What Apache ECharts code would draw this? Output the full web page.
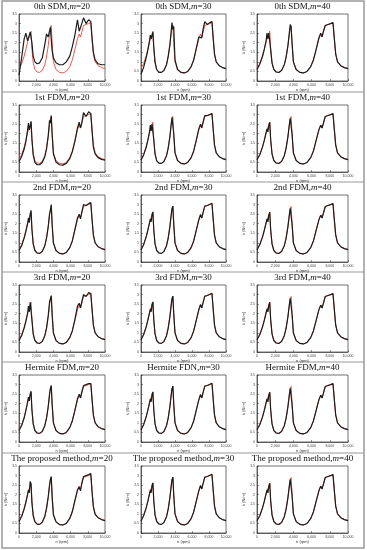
<!DOCTYPE html>
<html><head><meta charset="utf-8">
<script src="https://cdn.jsdelivr.net/npm/echarts/dist/echarts.min.js"></script>
<style>html,body{margin:0;padding:0;background:#fff}#c{width:367px;height:550px}</style>
</head><body><div id="c"></div>
<script>
// shared speed axis samples (rpm)
const speeds = [0,300,600,800,1000, 1100,1200,1300,1400,1500, 1650,1850,2100,2400,2700, 3000,3200,3400,3550,3650, 3750,3850,4000,4300,4700, 5100,5500,5900,6200,6500, 6800,7000,7150,7300,7500, 7800,8100,8350,8500,8650, 8850,9200,9600,10000];
// measured (red) curve
const measured = [0.65,0.9,1.3,1.65,2.05, 2.2,2.1,2.45,2.6,1.7, 0.95,0.6,0.47,0.45,0.55, 0.85,1.25,1.85,2.45,2.75, 2.9,2.0,1.0,0.6,0.45, 0.42,0.5,0.75,1.1,1.65, 2.2,2.45,2.3,2.55,2.9, 2.95,3.0,3.05,2.2,1.4, 1.0,0.8,0.7,0.65];
// computed (black) curves
const sdm20 = [0.3,1.2,2.2,2.5,2.1, 2.2,2.4,2.55,2.65,2.0, 1.3,1.0,0.9,0.95,1.2, 1.9,2.45,2.3,2.6,2.8, 2.2,1.6,1.2,0.95,0.85, 0.85,1.0,1.3,1.8,2.4, 3.2,2.6,2.7,3.0,3.3, 3.0,3.2,3.1,2.2,1.5, 1.1,0.9,0.85,0.85];
const sdm30 = [0.35,0.7,1.2,1.6,2.1, 2.4,2.2,2.3,2.55,1.8, 1.0,0.6,0.45,0.45,0.55, 0.85,1.3,1.9,2.6,3.05, 2.7,2.85,1.1,0.6,0.45, 0.42,0.5,0.75,1.1,1.7, 2.3,2.4,2.25,2.7,3.1, 2.95,3.05,3.1,2.2,1.4, 1.0,0.8,0.7,0.65];
const sdm40 = [0.6,0.88,1.28,1.65,2.1, 2.5,2.2,2.5,2.6,1.65, 0.95,0.6,0.47,0.45,0.55, 0.85,1.25,1.85,2.5,2.95, 2.8,2.0,1.0,0.6,0.45, 0.42,0.5,0.75,1.1,1.65, 2.25,2.5,2.3,2.6,2.9, 2.95,3.0,3.05,2.2,1.4, 1.0,0.8,0.7,0.65];
const fdm1_20 = [0.55,0.8,1.2,1.6,2.2, 2.55,2.2,2.4,2.65,1.75, 0.9,0.5,0.38,0.38,0.5, 0.8,1.2,1.9,2.7,2.55, 2.95,2.0,0.95,0.52,0.38, 0.36,0.45,0.7,1.05,1.6, 2.3,2.6,2.3,2.55,3.1, 2.9,3.15,3.05,2.1,1.3, 0.95,0.75,0.66,0.62];
const fdm1_30 = [0.62,0.88,1.28,1.65,2.1, 2.45,2.15,2.5,2.6,1.7, 0.95,0.58,0.46,0.45,0.55, 0.85,1.25,1.85,2.5,2.85, 2.95,2.0,1.0,0.6,0.45, 0.42,0.5,0.75,1.1,1.65, 2.25,2.5,2.3,2.6,2.95, 2.95,3.0,3.05,2.2,1.4, 1.0,0.8,0.7,0.65];
const fdm2_20 = [0.6,0.85,1.25,1.6,2.0, 2.3,2.05,2.5,2.7,1.75, 0.95,0.6,0.47,0.45,0.55, 0.85,1.25,1.85,2.5,2.7, 3.0,2.0,1.0,0.6,0.45, 0.42,0.5,0.75,1.1,1.7, 2.3,2.5,2.25,2.6,3.0, 2.95,3.05,3.1,2.2,1.4, 1.0,0.8,0.7,0.65];
const fdm3_20 = [0.6,0.85,1.25,1.6,2.0, 2.4,2.1,2.6,2.7,1.7, 0.95,0.6,0.47,0.45,0.55, 0.85,1.25,1.9,2.6,2.6, 2.95,2.0,1.0,0.6,0.45, 0.42,0.5,0.75,1.1,1.7, 2.4,2.55,2.3,2.6,3.0, 2.9,3.1,3.05,2.2,1.4, 1.0,0.8,0.7,0.65];
const herm20 = [0.6,0.85,1.25,1.65,2.1, 2.35,2.15,2.5,2.65,1.7, 0.95,0.6,0.47,0.45,0.55, 0.85,1.25,1.85,2.5,2.8, 2.95,2.0,1.0,0.6,0.45, 0.42,0.5,0.75,1.1,1.65, 2.25,2.5,2.3,2.6,2.95, 3.0,3.05,3.05,2.2,1.4, 1.0,0.8,0.7,0.65];
const prop20 = [0.6,0.85,1.25,1.6,2.0, 2.25,2.1,2.7,2.55,1.6, 0.9,0.58,0.46,0.45,0.56, 0.88,1.3,1.9,2.5,2.8, 2.95,1.9,0.95,0.58,0.44, 0.42,0.5,0.76,1.12,1.7, 2.25,2.4,2.2,2.6,2.95, 3.0,3.05,3.1,2.1,1.35, 0.98,0.8,0.7,0.65];
const near30 = [0.63,0.9,1.3,1.65,2.05, 2.25,2.1,2.5,2.62,1.7, 0.95,0.6,0.47,0.45,0.55, 0.85,1.25,1.85,2.45,2.8, 2.92,2.0,1.0,0.6,0.45, 0.42,0.5,0.75,1.1,1.65, 2.2,2.48,2.3,2.58,2.92, 2.95,3.02,3.07,2.2,1.4, 1.0,0.8,0.7,0.65];
const near40 = [0.64,0.9,1.3,1.65,2.05, 2.25,2.1,2.45,2.6,1.7, 0.95,0.6,0.47,0.45,0.55, 0.85,1.25,1.85,2.45,2.8, 2.9,2.0,1.0,0.6,0.45, 0.42,0.5,0.75,1.1,1.65, 2.2,2.45,2.3,2.55,2.9, 2.95,3.0,3.05,2.2,1.4, 1.0,0.8,0.7,0.65];

const rowMethods = ['0th SDM','1st FDM','2nd FDM','3rd FDM','Hermite FDM','The proposed method'];
const titleOverrides = {'4-1':'Hermite FDN'};
const orders = ['20','30','40'];
const panelCurves = [
  [sdm20, sdm30, sdm40],
  [fdm1_20, fdm1_30, near40],
  [fdm2_20, near30, near40],
  [fdm3_20, near30, near40],
  [herm20, near30, near40],
  [prop20, near30, near40]
];
const xTickStep = 2000, xMin = 0, xMax = 10000;
const yMin = 0, yMax = 3.5, yStep = 0.5;
const xName = 'n (rpm)', yName = 'k (N/m)';

const titleCenters = [7, 98, 188, 278, 368, 459];
const colLeft = [19, 141, 257], colWidth = [86, 85, 91];
const separators = [92, 182, 272, 362, 453];

const grids = [], xAxes = [], yAxes = [], series = [], titles = [];
const serif = '"Liberation Serif","Times New Roman",serif';
let k = 0;
for (let r = 0; r < 6; r++) {
  for (let c = 0; c < 3; c++) {
    const t = titleCenters[r];
    grids.push({left: colLeft[c], top: t + 7, width: colWidth[c], height: 67,
      show: true, borderColor: '#333', borderWidth: 0.7, backgroundColor: 'transparent'});
    const axisCommon = {
      gridIndex: k, nameLocation: 'middle',
      nameTextStyle: {fontSize: 4, color: '#333', fontFamily: 'Arial'},
      axisLine: {show: true, lineStyle: {color: '#333', width: 0.7}},
      axisTick: {inside: true, length: 2, lineStyle: {color: '#333', width: 0.5}},
      axisLabel: {fontSize: 3.5, color: '#444', margin: 2},
      splitLine: {show: false}
    };
    xAxes.push(Object.assign({}, axisCommon, {type: 'value', min: xMin, max: xMax, interval: xTickStep, name: xName, nameGap: 6}));
    yAxes.push(Object.assign({}, axisCommon, {type: 'value', min: yMin, max: yMax, interval: yStep, name: yName, nameGap: 9}));
    const blk = panelCurves[r][c];
    series.push({type: 'line', xAxisIndex: k, yAxisIndex: k, symbol: 'none', silent: true,
      lineStyle: {color: '#e8453c', width: 0.9}, data: speeds.map((x, i) => [x, measured[i]])});
    series.push({type: 'line', xAxisIndex: k, yAxisIndex: k, symbol: 'none', silent: true,
      lineStyle: {color: '#1c1c1c', width: 1.2}, data: speeds.map((x, i) => [x, blk[i]])});
    const name = titleOverrides[r + '-' + c] || rowMethods[r];
    titles.push({text: '{a|' + name + ',}{i|m}{a|=' + orders[c] + '}',
      left: colLeft[c] + colWidth[c] / 2, top: t - 5, textAlign: 'center', padding: 0,
      textStyle: {fontWeight: 'normal', rich: {
        a: {fontFamily: serif, fontSize: 9, color: '#111', fontWeight: 'normal'},
        i: {fontFamily: serif, fontSize: 9, color: '#111', fontStyle: 'italic', fontWeight: 'normal'}}}});
    k++;
  }
}
const graphics = [{type: 'rect', shape: {x: 2, y: 1, width: 362, height: 547},
  style: {fill: 'none', stroke: '#999', lineWidth: 1.5}}];
separators.forEach(y => graphics.push({type: 'line', shape: {x1: 2, y1: y, x2: 364, y2: y},
  style: {stroke: '#999', lineWidth: 1.2}}));

const chart = echarts.init(document.getElementById('c'), null, {renderer: 'canvas'});
chart.setOption({animation: false, backgroundColor: '#fff', title: titles, grid: grids,
  xAxis: xAxes, yAxis: yAxes, series: series, graphic: graphics});
</script></body></html>
